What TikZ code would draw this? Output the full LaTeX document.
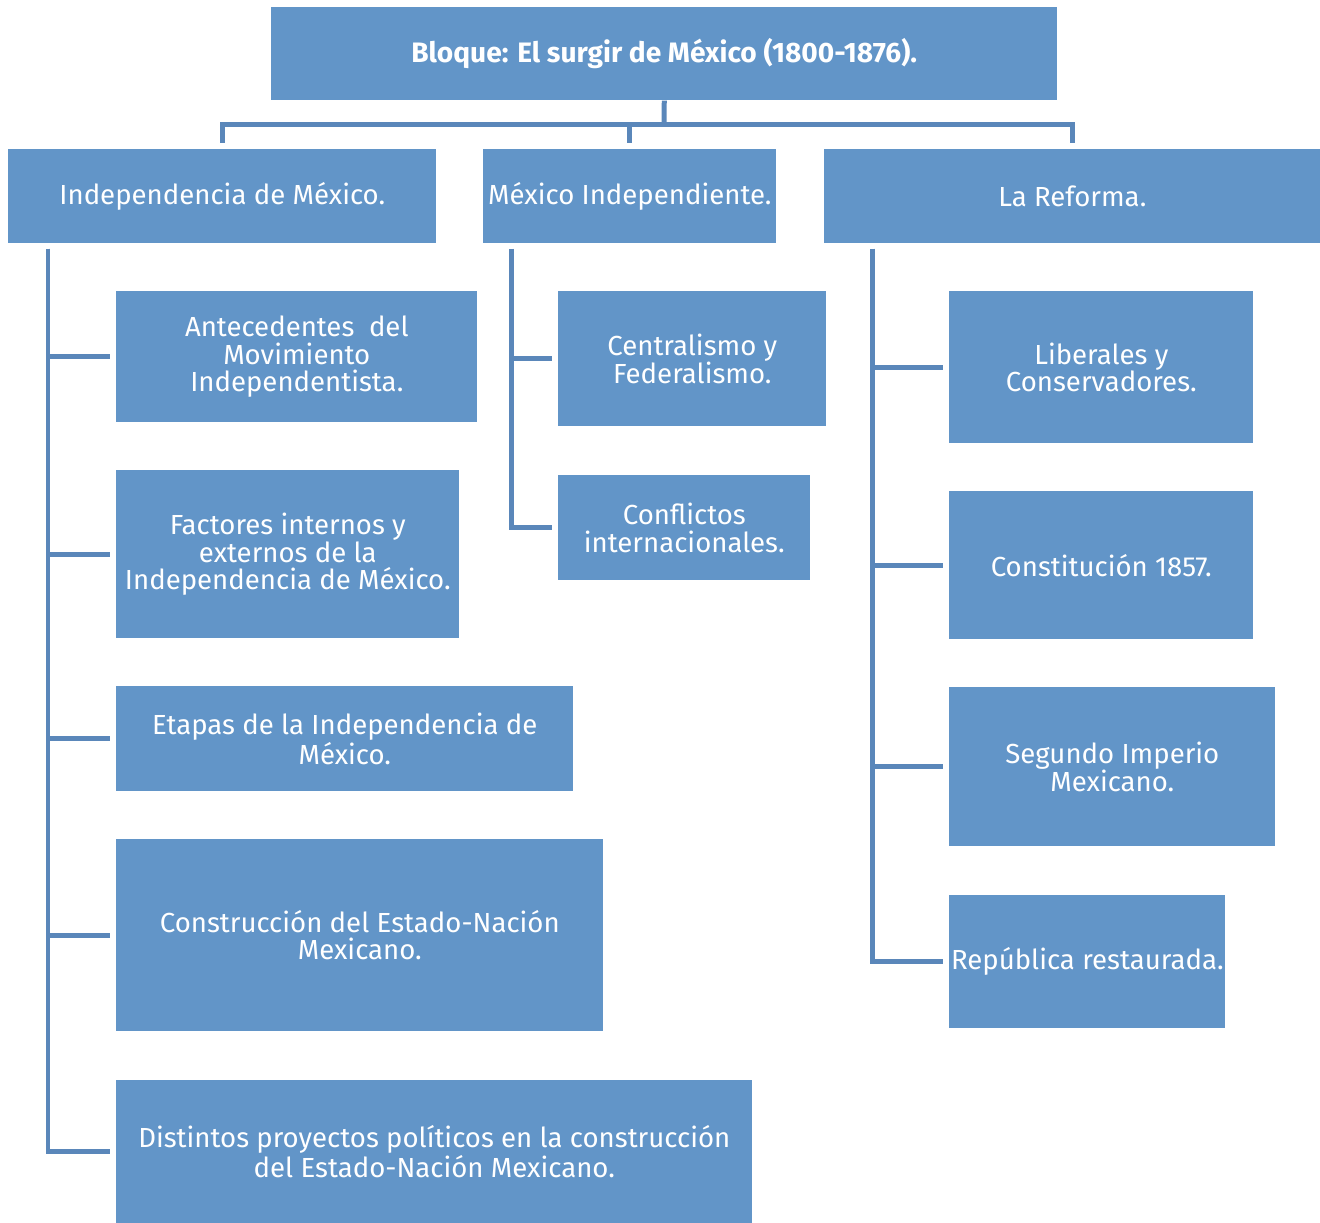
\documentclass[tikz,border=0pt]{standalone}
\usepackage{fontspec}
\setmainfont{Fira Sans}
\usepackage{tikz}
\usetikzlibrary{positioning,calc}
\definecolor{box1}{HTML}{6295C8}
\definecolor{line1}{HTML}{5A87BA}

\begin{document}
\begin{tikzpicture}[
    x=0.02cm, y=-0.02cm,
    box/.style={fill=box1, draw=none, text=white, align=center,
                anchor=north west, inner xsep=0pt, inner ysep=2pt,
                font=\fontsize{15.7}{15.6}\selectfont},
    link/.style={draw=line1, line width=0.1cm},
]
\useasboundingbox (0,0) rectangle (1320,1223);

% Root
\node[box, minimum width=15.72cm, minimum height=1.86cm,
      font=\bfseries\fontsize{16}{17}\selectfont] (root) at (271,7)
    {Bloque: El surgir de México (1800-1876).};

% First level
\node[box, minimum width=8.56cm, minimum height=1.88cm] (indep) at (8,149)
    {Independencia de México.};
\node[box, minimum width=5.86cm, minimum height=1.88cm] (mexind) at (483,149)
    {México Independiente.};
\node[box, minimum width=9.92cm, minimum height=1.88cm] (reforma) at (824,149)
    {La Reforma.};

% Independencia de México
\node[box, minimum width=7.22cm, minimum height=2.62cm] (antec) at (116,291)
    {Antecedentes\ \ del\\ Movimiento\\ Independentista.};
\node[box, minimum width=6.86cm, minimum height=3.36cm] (factores) at (116,470)
    {Factores internos y\\ externos de la\\ Independencia de México.};
\node[box, minimum width=9.14cm, minimum height=2.10cm] (etapas) at (116,686)
    {Etapas de la Independencia de\\ México.};
\node[box, minimum width=9.74cm, minimum height=3.84cm] (estado) at (116,839)
    {Construcción del Estado-Nación\\ Mexicano.};
\node[box, minimum width=12.72cm, minimum height=2.86cm] (proyectos) at (116,1080)
    {Distintos proyectos políticos en la construcción\\ del Estado-Nación Mexicano.};

% México Independiente
\node[box, minimum width=5.36cm, minimum height=2.70cm] (central) at (558,291)
    {Centralismo y\\ Federalismo.};
\node[box, minimum width=5.04cm, minimum height=2.10cm] (conflic) at (558,475)
    {Conflictos\\ internacionales.};

% La Reforma
\node[box, minimum width=6.08cm, minimum height=3.04cm] (liber) at (949,291)
    {Liberales y\\ Conservadores.};
\node[box, minimum width=6.08cm, minimum height=2.96cm] (const) at (949,491)
    {Constitución 1857.};
\node[box, minimum width=6.52cm, minimum height=3.18cm] (imperio) at (949,687)
    {Segundo Imperio\\ Mexicano.};
\node[box, minimum width=5.52cm, minimum height=2.66cm] (repub) at (949,895)
    {República restaurada.};

% Top connectors
\coordinate (bus) at (664,125);
\draw[link] (root.south) -- (bus);
\foreach \n in {indep, mexind, reforma}
    \draw[link] ([yshift=0.12cm]\n.north) |- (bus);

% Side connectors
\coordinate (ta) at (48,249);
\coordinate (tb) at (511,249);
\coordinate (tc) at (872,249);
\foreach \n in {antec, factores, etapas, estado, proyectos}
    \draw[link] (ta) |- ([xshift=-0.12cm]\n.west);
\foreach \n in {central, conflic}
    \draw[link] (tb) |- ([xshift=-0.12cm]\n.west);
\foreach \n in {liber, const, imperio, repub}
    \draw[link] (tc) |- ([xshift=-0.12cm]\n.west);
\end{tikzpicture}
\end{document}
